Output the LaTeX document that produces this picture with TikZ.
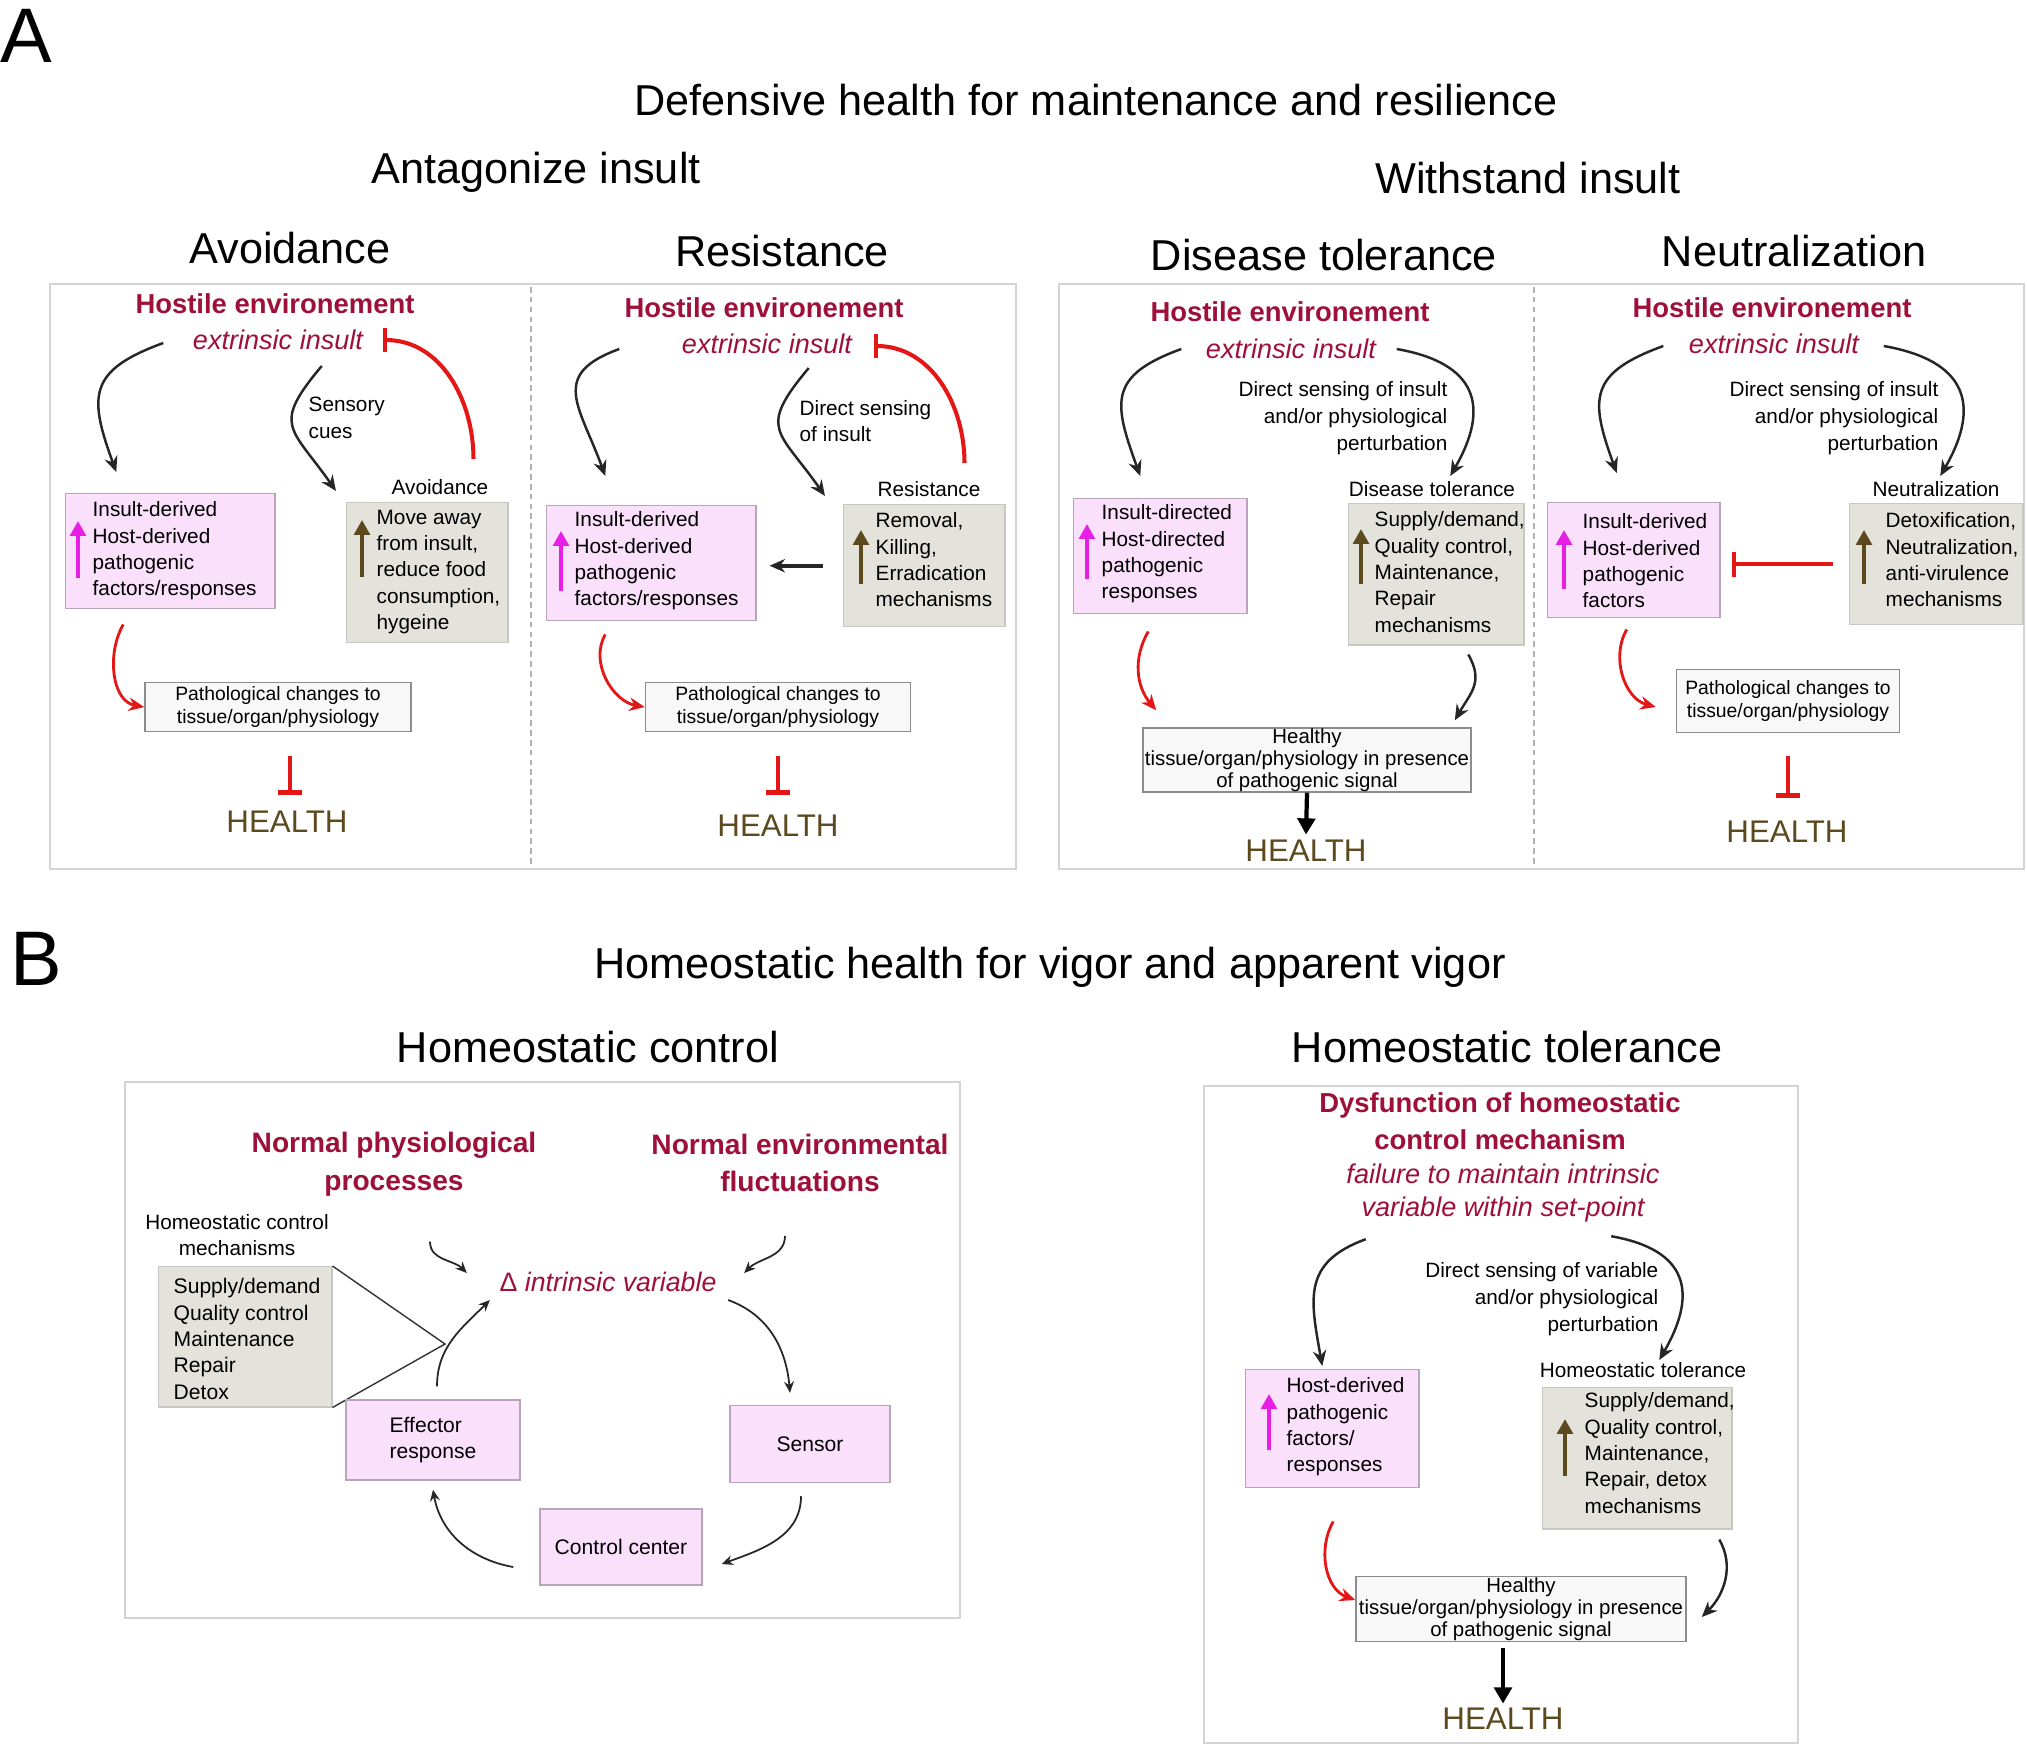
\documentclass[tikz,border=0pt]{standalone}
\usepackage{fontspec}
\setmainfont{Liberation Sans}
\usetikzlibrary{arrows.meta,calc}

\definecolor{hostred}{RGB}{158,16,58}
\definecolor{pinkfill}{RGB}{250,224,250}
\definecolor{pinkedge}{RGB}{185,165,185}
\definecolor{grayfill}{RGB}{227,227,220}
\definecolor{grayedge}{RGB}{200,200,194}
\definecolor{pathfill}{RGB}{248,248,248}
\definecolor{pathedge}{RGB}{140,140,140}
\definecolor{paneledge}{RGB}{212,212,212}
\definecolor{healthbrown}{RGB}{92,74,30}
\definecolor{upmagenta}{RGB}{230,30,230}
\definecolor{inhred}{RGB}{228,22,22}

\tikzset{
  letter/.style={font=\fontsize{22pt}{24pt}\selectfont, inner sep=0},
  heading/.style={font=\fontsize{12.3pt}{14pt}\selectfont, inner sep=0},
  hostile/.style={font=\fontsize{7.8pt}{10.7pt}\selectfont\bfseries, text=hostred, align=center, inner sep=0},
  insult/.style={font=\fontsize{7.7pt}{9.6pt}\selectfont\itshape, text=hostred, align=center, inner sep=0},
  causetext/.style={font=\fontsize{8pt}{10.7pt}\selectfont\bfseries, text=hostred, align=center, inner sep=0},
  labeltext/.style={font=\fontsize{5.9pt}{7.6pt}\selectfont, inner sep=0},
  boxtext/.style={font=\fontsize{5.9pt}{7.5pt}\selectfont, align=left, anchor=west, inner sep=0},
  pinkbox/.style={draw=pinkedge, fill=pinkfill, line width=0.4pt, anchor=north west, inner sep=0},
  graybox/.style={draw=grayedge, fill=grayfill, line width=0.4pt, anchor=north west, inner sep=0},
  pathbox/.style={draw=pathedge, fill=pathfill, line width=0.4pt, inner sep=0, align=center,
    font=\fontsize{5.5pt}{6.3pt}\selectfont},
  healthybox/.style={draw=pathedge, fill=pathfill, line width=0.4pt, inner sep=0, align=center,
    font=\fontsize{5.8pt}{6.2pt}\selectfont},
  health/.style={font=\fontsize{8.9pt}{10pt}\selectfont, text=healthbrown, inner sep=0},
  panel/.style={draw=paneledge, line width=0.5pt},
  divider/.style={draw=gray!60, line width=0.4pt, dash pattern=on 1.6pt off 1.2pt},
  bendarrow/.style={line width=0.7pt, black!85, -{Stealth[length=4.4pt,width=3.8pt]}},
  thinarrow/.style={line width=0.5pt, black!85, -{Stealth[length=3.2pt,width=2.8pt]}},
  redarrow/.style={line width=0.8pt, inhred, -{Stealth[length=4.4pt,width=3.8pt]}},
  inhibit/.style={line width=1.15pt, inhred, -{Bar[width=7pt]}},
  uparrow/.style={line width=1.15pt, upmagenta, -{Triangle[length=4.2pt,width=4.4pt]}},
  brownarrow/.style={line width=1.15pt, healthbrown, -{Triangle[length=4.2pt,width=4.4pt]}},
  downarrow/.style={line width=1.2pt, black, -{Triangle[length=4.6pt,width=5pt]}}
}

\begin{document}
\begin{tikzpicture}[x=0.01cm, y=-0.01cm]
\fill[white] (0,0) rectangle (2027,1748);
\useasboundingbox (0,0) rectangle (2027,1748);

% Titoli parte A
\node[letter] (lettA) at (26,36) {A};
\node[heading] (titA) at (1096,100) {Defensive health for maintenance and resilience};
\node[heading] (antag) at (536,172) {Antagonize insult};
\node[heading] (withst) at (1528,178) {Withstand insult};
\node[heading] (avoid) at (290,248) {Avoidance};
\node[heading] (resist) at (782,251) {Resistance};
\node[heading] (distol) at (1324,255) {Disease tolerance};
\node[heading] (neutr) at (1794,251) {Neutralization};

% Riquadri
\draw[panel] (50,284) rectangle (1016,869);
\draw[divider] (531,287) -- (531,866);
\draw[panel] (1059,284) rectangle (2024,869);
\draw[divider] (1534,287) -- (1534,866);

% Avoidance
\node[hostile] (host1) at (275,304) {Hostile environement};
\node[insult] (ins1) at (278,340) {extrinsic insult};
\node[pinkbox, minimum width=2.09cm, minimum height=1.15cm] (pk1) at (65,493) {};
\node[boxtext] (pkt1) at (92,551) {Insult-derived\\Host-derived\\pathogenic\\factors/responses};
\draw[uparrow] (78,578) -- (78,521);
\node[labeltext] (lab1) at (440,487) {Avoidance};
\node[graybox, minimum width=1.61cm, minimum height=1.40cm] (gb1) at (346,502) {};
\node[boxtext] (gbt1) at (376,572) {Move away\\from insult,\\reduce food\\consumption,\\hygeine};
\draw[brownarrow] (362,577) -- (362,520);
\node[labeltext, align=left, anchor=west] (sens1) at (308,418) {Sensory\\cues};
\node[pathbox, minimum width=2.66cm, minimum height=0.49cm] (pc1) at (278,707) {Pathological changes to\\tissue/organ/physiology};
\node[health] (hl1) at (287,822) {HEALTH};
\draw[bendarrow] ($(ins1.west)+(-29,3)$) to[out=200,in=110,looseness=1.5] ($(pk1.north)+(-54,-21)$);
\draw[bendarrow] ($(ins1.east)+(-42,26)$) to[out=230,in=125,looseness=1.6] ($(gb1.north west)+(-10,-11)$);
\draw[inhibit] ($(gb1.north east)+(-35,-43)$) to[out=90,in=0] ($(ins1.east)+(19,0)$);
\draw[redarrow] ($(pk1.south)+(-47,15)$) to[out=240,in=170] (pc1.west);
\draw[inhibit] ($(pc1.south)+(12,24)$) -- ($(hl1.north)+(3,-16)$);

% Resistance
\node[hostile] (host2) at (764,308) {Hostile environement};
\node[insult] (ins2) at (767,344) {extrinsic insult};
\node[pinkbox, minimum width=2.09cm, minimum height=1.15cm] (pk2) at (546,505) {};
\node[boxtext] (pkt2) at (574,561) {Insult-derived\\Host-derived\\pathogenic\\factors/responses};
\draw[uparrow] (561,591) -- (561,531);
\node[labeltext] (lab2) at (929,489) {Resistance};
\node[graybox, minimum width=1.61cm, minimum height=1.22cm] (gb2) at (843,504) {};
\node[boxtext] (gbt2) at (875,560) {Removal,\\Killing,\\Erradication\\mechanisms};
\draw[brownarrow] (861,584) -- (861,530);
\node[labeltext, align=left, anchor=west] (sens2) at (799,421) {Direct sensing\\of insult};
\node[pathbox, minimum width=2.65cm, minimum height=0.49cm] (pc2) at (778,707) {Pathological changes to\\tissue/organ/physiology};
\node[health] (hl2) at (778,826) {HEALTH};
\draw[bendarrow] ($(ins2.west)+(-62,5)$) to[out=200,in=110,looseness=1.5] ($(pk2.north)+(-46,-29)$);
\draw[bendarrow] ($(ins2.east)+(-44,24)$) to[out=230,in=125,looseness=1.6] ($(gb2.north west)+(-18,-8)$);
\draw[inhibit] ($(gb2.north east)+(-41,-41)$) to[out=90,in=0] ($(ins2.east)+(21,2)$);
\draw[bendarrow, line width=1pt] ($(gb2.west)+(-20,0)$) -- ($(pk2.east |- gb2.west)+(13,0)$);
\draw[redarrow] ($(pk2.south)+(-46,13)$) to[out=240,in=170] (pc2.west);
\draw[inhibit] ($(pc2.south)+(0,24)$) -- ($(hl2.north)+(0,-20)$);

% Disease tolerance
\node[hostile] (host3) at (1290,312) {Hostile environement};
\node[insult] (ins3) at (1291,349) {extrinsic insult};
\node[pinkbox, minimum width=1.73cm, minimum height=1.15cm] (pk3) at (1073,498) {};
\node[boxtext] (pkt3) at (1101,554) {Insult-directed\\Host-directed\\pathogenic\\responses};
\draw[uparrow] (1087,579) -- (1087,524);
\node[labeltext] (lab3) at (1432,489) {Disease tolerance};
\node[graybox, minimum width=1.75cm, minimum height=1.41cm] (gb3) at (1348,503) {};
\node[boxtext] (gbt3) at (1374,572) {Supply/demand,\\Quality control,\\Maintenance,\\Repair\\mechanisms};
\draw[brownarrow] (1361,584) -- (1361,529);
\node[labeltext, align=right, anchor=east] (sens3) at (1448,418) {Direct sensing of insult\\and/or physiological\\perturbation};
\node[healthybox, minimum width=3.28cm, minimum height=0.64cm] (hb3) at (1307,760) {Healthy\\tissue/organ/physiology in presence\\of pathogenic signal};
\node[health] (hl3) at (1306,851) {HEALTH};
\draw[bendarrow] ($(ins3.west)+(-24,0)$) to[out=200,in=110,looseness=1.5] ($(pk3.north)+(-20,-22)$);
\draw[bendarrow] ($(ins3.east)+(20,0)$) to[out=-10,in=60,looseness=1.5] ($(gb3.north)+(14,-27)$);
\draw[redarrow] ($(pk3.south)+(-12,17)$) to[out=240,in=130] ($(hb3.north west)+(14,-17)$);
\draw[bendarrow] ($(gb3.south)+(32,9)$) to[out=-60,in=60,looseness=1.2] ($(hb3.north east)+(-17,-7)$);
\draw[downarrow] (hb3.south) -- ($(hl3.north)+(0,-5)$);

% Neutralization
\node[hostile] (host4) at (1772,308) {Hostile environement};
\node[insult] (ins4) at (1774,344) {extrinsic insult};
\node[pinkbox, minimum width=1.72cm, minimum height=1.15cm] (pk4) at (1547,502) {};
\node[boxtext] (pkt4) at (1582,561) {Insult-derived\\Host-derived\\pathogenic\\factors};
\draw[uparrow] (1564,589) -- (1564,530);
\node[labeltext] (lab4) at (1936,489) {Neutralization};
\node[graybox, minimum width=1.73cm, minimum height=1.21cm] (gb4) at (1849,503) {};
\node[boxtext] (gbt4) at (1885,560) {Detoxification,\\Neutralization,\\anti-virulence\\mechanisms};
\draw[brownarrow] (1864,584) -- (1864,530);
\node[labeltext, align=right, anchor=east] (sens4) at (1939,418) {Direct sensing of insult\\and/or physiological\\perturbation};
\node[pathbox, minimum width=2.23cm, minimum height=0.63cm] (pc4) at (1788,701) {Pathological changes to\\tissue/organ/physiology};
\node[health] (hl4) at (1787,832) {HEALTH};
\draw[bendarrow] ($(ins4.west)+(-25,2)$) to[out=200,in=110,looseness=1.5] ($(pk4.north)+(-17,-29)$);
\draw[bendarrow] ($(ins4.east)+(24,2)$) to[out=-10,in=60,looseness=1.5] ($(gb4.north)+(4,-27)$);
\draw[inhibit] ($(gb4.west)+(-16,0)$) -- ($(pk4.east |- gb4.west)+(11,0)$);
\draw[redarrow] ($(pk4.south)+(-7,11)$) to[out=240,in=165] ($(pc4.west)+(-20,6)$);
\draw[inhibit] ($(pc4.south)+(0,23)$) -- ($(hl4.north)+(1,-23)$);

% Titoli parte B
\node[letter] (lettB) at (36,959) {B};
\node[heading] (titB) at (1050,967) {Homeostatic health for vigor and apparent vigor};
\node[heading] (hctl) at (588,1047) {Homeostatic control};
\node[heading] (htol) at (1507,1047) {Homeostatic tolerance};
\draw[panel] (125,1082) rectangle (960,1618);
\draw[panel] (1204,1086) rectangle (1798,1743);

% Homeostatic control
\node[causetext] (np) at (394,1164) {Normal physiological\\processes};
\node[causetext] (ne) at (800,1163) {Normal environmental\\fluctuations};
\node[labeltext, align=center] (hcm) at (237,1235) {Homeostatic control\\mechanisms};
\node[graybox, minimum width=1.73cm, minimum height=1.40cm] (gbB) at (158,1266) {};
\node[boxtext, font=\fontsize{6pt}{7.5pt}\selectfont] (gbtB) at (173,1339) {Supply/demand\\Quality control\\Maintenance\\Repair\\Detox};
\coordinate (apex) at (445,1344);
\draw[line width=0.4pt, black!80] (gbB.north east) -- (apex) -- (gbB.south east);
\node[insult, font=\fontsize{7.6pt}{9pt}\selectfont\itshape] (dv) at (608,1282) {{\upshape Δ} intrinsic variable};
\node[pinkbox, anchor=center, align=left, minimum width=1.74cm, minimum height=0.80cm, font=\fontsize{6pt}{7.5pt}\selectfont] (eff) at (433,1440) {Effector\\response};
\node[pinkbox, anchor=center, minimum width=1.60cm, minimum height=0.77cm, font=\fontsize{6pt}{7.5pt}\selectfont] (sen) at (810,1444) {Sensor};
\node[pinkbox, anchor=center, minimum width=1.62cm, minimum height=0.76cm, font=\fontsize{6pt}{7.5pt}\selectfont] (cc) at (621,1547) {Control center};
\draw[thinarrow] ($(np.south)+(36,45)$) to[out=270,in=135] ($(dv.west)+(-32,-9)$);
\draw[thinarrow] ($(ne.south)+(-15,43)$) to[out=270,in=45] ($(dv.east)+(27,-9)$);
\draw[thinarrow] ($(dv.east)+(11,18)$) to[out=-20,in=95] ($(sen.north)+(-20,-12)$);
\draw[thinarrow] ($(sen.south)+(-9,13)$) to[out=270,in=20] ($(cc.east)+(19,17)$);
\draw[thinarrow] ($(cc.west)+(-26,20)$) to[out=170,in=280] ($(eff.south)+(0,9)$);
\draw[thinarrow] ($(eff.north)+(4,-13)$) to[out=90,in=225] ($(dv.west)+(-9,18)$);

% Homeostatic tolerance
\node[hostile] (dys) at (1500,1121) {Dysfunction of homeostatic\\control mechanism};
\node[insult] (fail) at (1503,1193) {failure to maintain intrinsic\\variable within set-point};
\node[pinkbox, minimum width=1.73cm, minimum height=1.18cm] (pkB) at (1245,1369) {};
\node[boxtext] (pktB) at (1286,1427) {Host-derived\\pathogenic\\factors/\\responses};
\draw[uparrow] (1269,1450) -- (1269,1394);
\node[labeltext] (labB) at (1643,1370) {Homeostatic tolerance};
\node[graybox, minimum width=1.89cm, minimum height=1.41cm] (gbB2) at (1542,1387) {};
\node[boxtext] (gbtB2) at (1584,1453) {Supply/demand,\\Quality control,\\Maintenance,\\Repair, detox\\mechanisms};
\draw[brownarrow] (1565,1476) -- (1565,1419);
\node[labeltext, align=right, anchor=east] (sensB) at (1659,1299) {Direct sensing of variable\\and/or physiological\\perturbation};
\node[healthybox, minimum width=3.30cm, minimum height=0.65cm] (hbB) at (1521,1609) {Healthy\\tissue/organ/physiology in presence\\of pathogenic signal};
\node[health] (hlB) at (1503,1719) {HEALTH};
\draw[bendarrow] ($(fail.south west)+(20,16)$) to[out=200,in=100,looseness=1.3] ($(pkB.north)+(-10,-3)$);
\draw[bendarrow] ($(fail.south east)+(-49,13)$) to[out=-10,in=60,looseness=1.5] ($(gbB2.north)+(22,-27)$);
\draw[redarrow] ($(pkB.south)+(1,33)$) to[out=240,in=160] ($(hbB.west)+(0,-9)$);
\draw[bendarrow] ($(gbB2.south)+(82,10)$) to[out=-60,in=45] ($(hbB.east)+(15,8)$);
\draw[downarrow] ($(hlB.north |- hbB.south)+(0,6)$) -- ($(hlB.north)+(0,-4)$);

\end{tikzpicture}
\end{document}
